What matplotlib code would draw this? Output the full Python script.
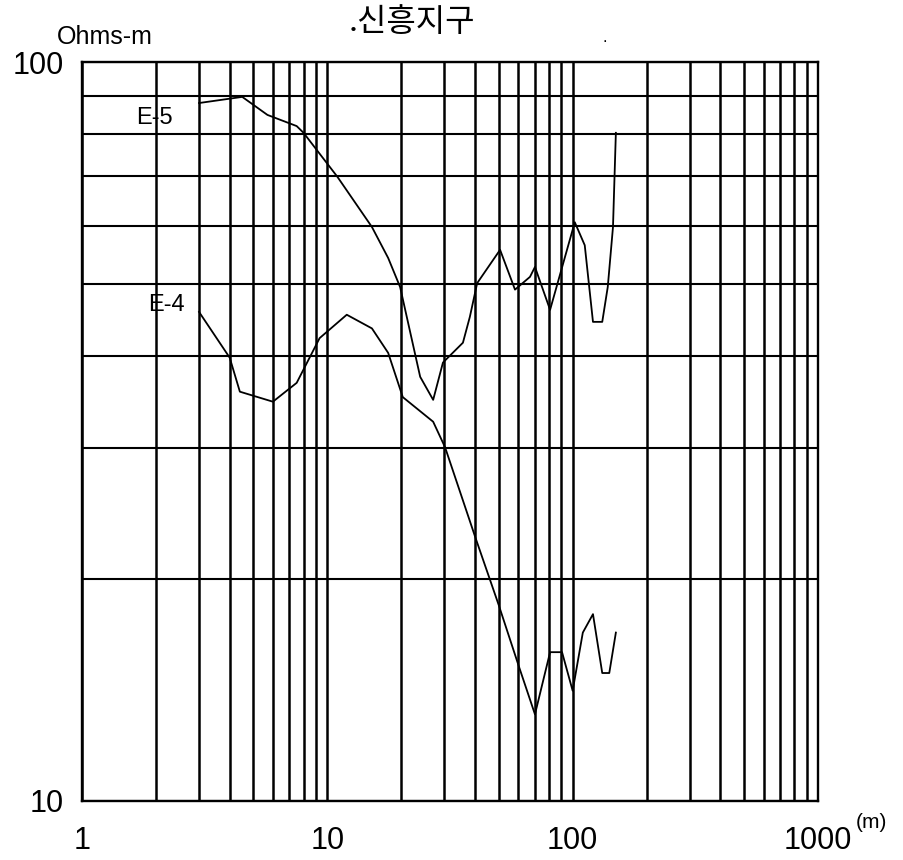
import matplotlib
matplotlib.use("Agg")
import matplotlib.pyplot as plt
from matplotlib.ticker import LogLocator, NullFormatter, FixedLocator

plt.rcParams['font.family'] = ['Liberation Sans', 'Noto Sans CJK KR', 'DejaVu Sans']

# electrode spacing (m) and apparent resistivity (Ohms-m)
e5_x = [3, 4.5, 5.7, 7.5, 8, 11, 15.2, 17.7, 19.8, 23.9, 27, 29.6, 35.7, 38.1, 40.8,
        50.6, 58.2, 67, 70.2, 80.9, 102, 112, 121, 132, 139, 146, 150]
e5_y = [88.0, 89.7, 84.8, 81.9, 80.2, 69.9, 59.8, 54.3, 49.6, 37.5, 34.9, 39.2, 41.7, 45.2, 50.2,
        55.7, 49.2, 51.2, 52.8, 46.2, 60.7, 56.5, 44.5, 44.5, 49.6, 59.8, 80.2]

e4_x = [3, 4, 4.4, 6, 7.5, 9.3, 12, 15.2, 17.7, 20.3, 27, 30.2, 40, 50, 60, 70.2,
        80.9, 90.5, 100, 110, 121, 132, 141, 150]
e4_y = [45.9, 39.8, 35.8, 34.7, 36.8, 42.3, 45.5, 43.6, 40.4, 35.2, 32.6, 30.1, 22.8, 18.4, 15.3, 13.1,
        15.9, 15.9, 14.1, 16.9, 17.9, 14.9, 14.9, 16.9]

x_ticks = [1, 10, 100, 1000]
x_labels = ['1', '10', '100', '1000']
y_ticks = [10, 100]
y_labels = ['10', '100']

fig = plt.figure(figsize=(9.04, 8.6), dpi=100)
ax = fig.add_axes([82/904, 1-801/860, 736/904, 739/860])

ax.plot(e5_x, e5_y, color='black', lw=1.3, zorder=3)
ax.plot(e4_x, e4_y, color='black', lw=1.3, zorder=3)

ax.set_xscale('log')
ax.set_yscale('log')
ax.set_xlim(1, 1000)
ax.set_ylim(10, 100)

ax.xaxis.set_major_locator(FixedLocator(x_ticks))
ax.set_xticklabels(x_labels)
ax.yaxis.set_major_locator(FixedLocator(y_ticks))
ax.set_yticklabels(y_labels)
ax.xaxis.set_minor_locator(LogLocator(base=10, subs=range(2, 10)))
ax.yaxis.set_minor_locator(LogLocator(base=10, subs=range(2, 10)))
ax.xaxis.set_minor_formatter(NullFormatter())
ax.yaxis.set_minor_formatter(NullFormatter())

ax.grid(which='both', axis='x', color='black', lw=1.8, zorder=1)
ax.grid(which='both', axis='y', color='black', lw=1.5, zorder=1)
ax.tick_params(which='both', length=0)
ax.tick_params(axis='x', pad=18, labelsize=22)
ax.tick_params(axis='y', pad=13, labelsize=22)
for s in ax.spines.values():
    s.set_linewidth(1.7)

ax.text(1.97, 84.1, 'E-5', fontsize=17, ha='center', va='center')
ax.text(2.2, 46.9, 'E-4', fontsize=17, ha='center', va='center')

fig.text(57/904, 1-37/860, 'Ohms-m', fontsize=18, ha='left', va='center')
fig.text(856/904, 1-822/860, '(m)', fontsize=15, ha='left', va='center')
fig.text(412/904, 1-22/860, '.신흥지구', fontsize=23, ha='center', va='center',
         family=['Noto Sans CJK KR', 'DejaVu Sans'])
fig.text(605/904, 1-38/860, '.', fontsize=12, ha='center', va='center')

fig.savefig('out.png', dpi=100, facecolor='white')
